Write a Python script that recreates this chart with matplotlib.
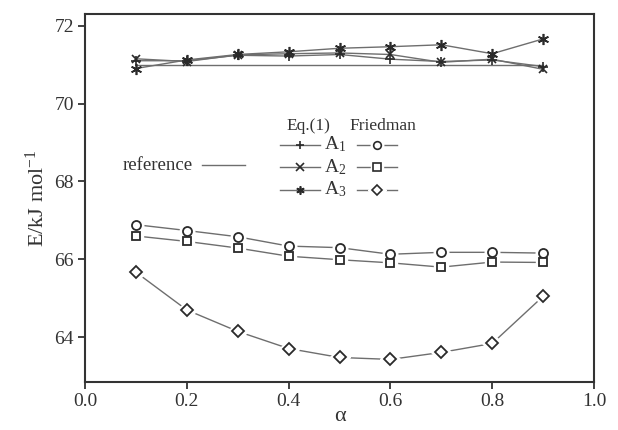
import numpy as np
import matplotlib.pyplot as plt

plt.rcParams['font.family'] = ['Liberation Serif', 'DejaVu Serif']
plt.rcParams['mathtext.fontset'] = 'custom'
plt.rcParams['mathtext.rm'] = 'Liberation Serif'
plt.rcParams['mathtext.it'] = 'Liberation Serif:italic'

# conversion degree
alpha = np.array([0.1, 0.2, 0.3, 0.4, 0.5, 0.6, 0.7, 0.8, 0.9])

# Eq.(1) results
eq_a1 = [71.10, 71.10, 71.24, 71.22, 71.26, 71.14, 71.08, 71.12, 70.95]
eq_a2 = [71.15, 71.08, 71.25, 71.28, 71.30, 71.26, 71.06, 71.14, 70.88]
eq_a3 = [70.90, 71.12, 71.26, 71.33, 71.42, 71.46, 71.51, 71.28, 71.66]

# Friedman results
fr_a1 = [66.89, 66.74, 66.58, 66.34, 66.30, 66.13, 66.18, 66.18, 66.16]
fr_a2 = [66.60, 66.46, 66.29, 66.08, 65.99, 65.91, 65.80, 65.93, 65.92]
fr_a3 = [65.67, 64.70, 64.15, 63.71, 63.48, 63.43, 63.61, 63.84, 65.05]

reference = 71.0

line_c = '#6e6e6e'
mark_c = '#2a2a2a'
text_c = '#333333'

fig = plt.figure(figsize=(6.18, 4.30), dpi=100)
ax = fig.add_axes([85/618, 48/430, 509/618, 368/430])

# reference line
ax.plot([alpha[0], alpha[-1]], [reference, reference], color=line_c, lw=1.0, zorder=2)

# Eq.(1) series (crowded near 71)
for vals, m, ms in [(eq_a1, '+', 7), (eq_a2, 'x', 6), (eq_a3, (6, 2, 0), 8)]:
    ax.plot(alpha, vals, color=line_c, lw=1.0, zorder=2)
    ax.plot(alpha, vals, ls='none', marker=m, ms=ms, mec=mark_c, mfc=mark_c,
            mew=1.2, zorder=4)

# Friedman series
for vals, m, ms in [(fr_a1, 'o', 6.5), (fr_a2, 's', 6), (fr_a3, 'D', 6)]:
    ax.plot(alpha, vals, color=line_c, lw=1.0, zorder=2)
    ax.plot(alpha, vals, ls='none', marker=m, ms=ms + 4, mec='white', mfc='white',
            zorder=3)
    ax.plot(alpha, vals, ls='none', marker=m, ms=ms, mec=mark_c, mfc='white',
            mew=1.3, zorder=4)

# hand-made legend
tr = ax.transAxes
ax.text(0.395, 0.697, 'Eq.(1)', transform=tr, fontsize=12.5, va='center', color=text_c)
ax.text(0.52, 0.697, 'Friedman', transform=tr, fontsize=12.5, va='center', color=text_c)

rows = [0.645, 0.585, 0.523]
names = ['A$_1$', 'A$_2$', 'A$_3$']
left_m = ['+', 'x', (6, 2, 0)]
right_m = ['o', 's', 'D']
for y, nm, lm, rm in zip(rows, names, left_m, right_m):
    ax.plot([0.383, 0.462], [y, y], color=line_c, lw=1.0, transform=tr)
    ax.plot([0.4225], [y], marker=lm, ms=6, mec=mark_c, mfc=mark_c, mew=1.2,
            transform=tr, ls='none')
    ax.text(0.47, y, nm, transform=tr, fontsize=14, va='center', color=text_c)
    ax.plot([0.534, 0.613], [y, y], color=line_c, lw=1.0, transform=tr)
    ax.plot([0.5735], [y], marker=rm, ms=9, mec='white', mfc='white',
            transform=tr, ls='none')
    ax.plot([0.5735], [y], marker=rm, ms=5.5, mec=mark_c, mfc='white', mew=1.2,
            transform=tr, ls='none')

ax.text(0.074, 0.589, 'reference', transform=tr, fontsize=13.5, va='center', color=text_c)
ax.plot([0.230, 0.314], [0.589, 0.589], color=line_c, lw=1.0, transform=tr)

ax.set_xlim(0.0, 1.0)
ax.set_ylim(62.85, 72.3)
ax.set_xticks([0.0, 0.2, 0.4, 0.6, 0.8, 1.0])
ax.set_yticks([64, 66, 68, 70, 72])
ax.set_xticklabels(['0.0', '0.2', '0.4', '0.6', '0.8', '1.0'])
ax.tick_params(direction='out', length=5, width=1.3, labelsize=14, color=text_c,
               labelcolor=text_c, pad=3)
for s in ax.spines.values():
    s.set_linewidth(1.5)
    s.set_color(text_c)

ax.set_xlabel('\u03b1', fontsize=16, color=text_c, labelpad=-2)
ax.set_ylabel(r'E/kJ mol$^{-1}$', fontsize=16, color=text_c, labelpad=4)

fig.savefig('out.png', dpi=100)
